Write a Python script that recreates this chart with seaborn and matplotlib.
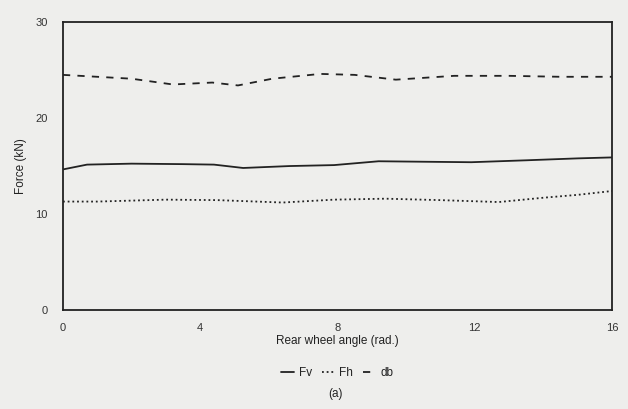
import numpy as np
import pandas as pd
import matplotlib
matplotlib.use("Agg")
import matplotlib.pyplot as plt
import seaborn as sns

# Data
fv_angle = [0.0, 0.7, 2.0, 3.5, 4.4, 5.25, 6.6, 7.9, 9.2, 10.5, 11.9, 13.5, 15.0, 16.0]
fv_force = [14.65, 15.15, 15.25, 15.2, 15.15, 14.8, 15.0, 15.1, 15.5, 15.45, 15.4, 15.6, 15.8, 15.9]

fh_angle = [0.0, 1.0, 3.0, 4.5, 6.4, 7.9, 9.4, 11.0, 12.7, 14.0, 15.0, 16.0]
fh_force = [11.3, 11.3, 11.5, 11.45, 11.2, 11.5, 11.6, 11.45, 11.25, 11.7, 12.0, 12.4]

db_angle = [0.0, 1.0, 2.0, 3.2, 4.35, 5.1, 6.1, 7.5, 8.5, 9.7, 11.4, 13.0, 14.5, 16.0]
db_force = [24.5, 24.3, 24.1, 23.5, 23.7, 23.4, 24.1, 24.6, 24.5, 24.0, 24.4, 24.4, 24.3, 24.3]

series_names = ["Fv", "Fh", "db"]
x_ticks = [0, 4, 8, 12, 16]
y_ticks = [0, 10, 20, 30]

sns.set_theme(style="white")
plt.rcParams['font.family'] = ['Liberation Sans', 'DejaVu Sans']

bg = "#eeeeec"
fig = plt.figure(figsize=(6.28, 4.09), dpi=100, facecolor=bg)
ax = fig.add_axes([0.1003, 0.242, 0.8742, 0.704])
ax.set_facecolor(bg)

df = pd.concat([
    pd.DataFrame({"angle": fv_angle, "force": fv_force, "series": series_names[0]}),
    pd.DataFrame({"angle": fh_angle, "force": fh_force, "series": series_names[1]}),
    pd.DataFrame({"angle": db_angle, "force": db_force, "series": series_names[2]}),
])

styles = {"Fv": dict(ls="-", lw=1.3), "Fh": dict(ls=(0, (1, 1.6)), lw=1.3), "db": dict(ls=(0, (4, 4)), lw=1.3)}
for name in series_names:
    sub = df[df["series"] == name]
    sns.lineplot(data=sub, x="angle", y="force", ax=ax, color="#222222",
                 linestyle=styles[name]["ls"], linewidth=styles[name]["lw"],
                 label=name, legend=False)

ax.set_xlim(0, 16)
ax.set_ylim(0, 30)
ax.set_xticks(x_ticks)
ax.set_yticks(y_ticks)
ax.set_xticklabels([str(t) for t in x_ticks], fontsize=8, color="#333333")
ax.set_yticklabels([str(t) for t in y_ticks], fontsize=8, color="#333333")
ax.tick_params(direction="in", length=5, width=1.2, color="#222222")
ax.tick_params(axis="y", pad=11)
ax.tick_params(axis="x", pad=9)
for s in ax.spines.values():
    s.set_color("#222222")
    s.set_linewidth(1.3)

ax.set_xlabel("Rear wheel angle (rad.)", fontsize=8.5, color="#222222", labelpad=2)
ax.set_ylabel("Force (kN)", fontsize=8.5, color="#222222", labelpad=6)

leg = ax.legend(loc="upper center", bbox_to_anchor=(0.5, -0.16), ncol=3, frameon=False,
                handlelength=1.1, handletextpad=0.4, columnspacing=0.8, fontsize=8.5)
for t in leg.get_texts():
    t.set_color("#222222")

fig.text(0.535, 0.037, "(a)", ha="center", va="center", fontsize=8.5, color="#222222")

fig.savefig("out.png", dpi=100, facecolor=bg)
